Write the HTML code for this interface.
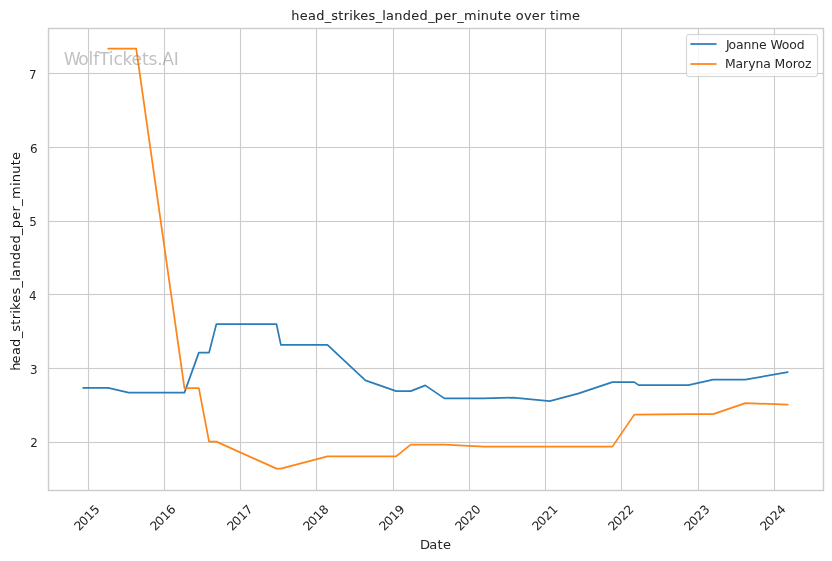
<!DOCTYPE html>
<html lang="en"><head><meta charset="utf-8"><title>head_strikes_landed_per_minute over time</title>
<style>html,body{margin:0;padding:0;background:#fff}body{width:832px;height:561px;overflow:hidden}svg{display:block}text{font-family:"DejaVu Sans","Liberation Sans",sans-serif}svg{fill:#262626}</style></head><body>
<svg width="832" height="561" viewBox="0 0 832 561">
<rect width="832" height="561" fill="#fff"/>
<g fill="#ccc" fill-opacity="0.055" shape-rendering="crispEdges">
<rect x="87" y="29" width="3" height="461"/>
<rect x="163" y="29" width="3" height="461"/>
<rect x="239" y="29" width="3" height="461"/>
<rect x="315" y="29" width="3" height="461"/>
<rect x="392" y="29" width="3" height="461"/>
<rect x="468" y="29" width="3" height="461"/>
<rect x="544" y="29" width="3" height="461"/>
<rect x="620" y="29" width="3" height="461"/>
<rect x="697" y="29" width="3" height="461"/>
<rect x="773" y="29" width="3" height="461"/>
<rect x="49" y="72" width="774" height="3"/>
<rect x="49" y="146" width="774" height="3"/>
<rect x="49" y="220" width="774" height="3"/>
<rect x="49" y="293" width="774" height="3"/>
<rect x="49" y="367" width="774" height="3"/>
<rect x="49" y="441" width="774" height="3"/>
</g>
<g fill="#ccc" shape-rendering="crispEdges">
<rect x="88" y="29" width="1" height="461"/>
<rect x="164" y="29" width="1" height="461"/>
<rect x="240" y="29" width="1" height="461"/>
<rect x="316" y="29" width="1" height="461"/>
<rect x="393" y="29" width="1" height="461"/>
<rect x="469" y="29" width="1" height="461"/>
<rect x="545" y="29" width="1" height="461"/>
<rect x="621" y="29" width="1" height="461"/>
<rect x="698" y="29" width="1" height="461"/>
<rect x="774" y="29" width="1" height="461"/>
<rect x="49" y="73" width="774" height="1"/>
<rect x="49" y="147" width="774" height="1"/>
<rect x="49" y="221" width="774" height="1"/>
<rect x="49" y="294" width="774" height="1"/>
<rect x="49" y="368" width="774" height="1"/>
<rect x="49" y="442" width="774" height="1"/>
</g>
<g fill="none" stroke-width="1.750" stroke-opacity="0.9524" stroke-linecap="round" stroke-linejoin="round">
<polyline stroke="#1f77b4" points="83.19,387.875 108.24,387.875 128.69,392.625 184.43,392.625 198.84,352.625 209.06,352.625 216.37,324.125 276.49,324.125 280.88,344.875 327.43,344.875 365.42,380.375 396.11,391.125 410.72,391.125 425.33,385.375 444.33,398.375 483.78,398.375 513.01,397.625 549.75,401.125 578.77,393.375 612.38,382.125 634.30,382.125 638.68,385.125 688.36,385.125 713.21,379.625 745.35,379.625 787.73,372.125"/>
<polyline stroke="#ff7f0e" points="108.24,48.625 136.21,48.625 184.43,388.125 198.84,388.125 209.06,441.625 216.37,441.625 276.49,468.625 280.88,468.625 327.43,456.375 396.11,456.375 410.72,444.625 444.33,444.625 483.78,446.625 612.38,446.625 634.30,414.625 688.36,414.125 713.21,414.125 745.35,403.125 787.73,404.625"/>
</g>
<rect x="48.5" y="28.5" width="775.0" height="462.0" fill="none" stroke="#ccc" stroke-width="1.39"/>
<g font-size="11.92" text-anchor="end">
<text x="36.52" y="79.00">7</text>
<text x="37.52" y="153.00">6</text>
<text x="36.77" y="226.00">5</text>
<text x="36.52" y="300.00">4</text>
<text x="37.52" y="374.00">3</text>
<text x="37.77" y="447.00">2</text>
</g>
<g font-size="12.12" stroke="#262626" stroke-width="0.045">
<text transform="translate(87.07,518.46) rotate(-45)" x="-14.50 -7.75 0.00 7.75" y="3.50 3.50 3.50 3.50">2015</text>
<text transform="translate(163.01,518.46) rotate(-45)" x="-14.50 -7.75 0.00 7.75" y="3.50 3.50 3.50 3.50">2016</text>
<text transform="translate(240.17,518.46) rotate(-45)" x="-14.75 -8.00 -0.25 7.75" y="3.50 3.50 3.50 3.50">2017</text>
<text transform="translate(316.11,518.46) rotate(-45)" x="-14.75 -8.00 0.00 7.75" y="3.50 3.50 3.50 3.50">2018</text>
<text transform="translate(392.06,518.46) rotate(-45)" x="-14.50 -7.75 0.00 7.75" y="3.50 3.50 3.50 3.50">2019</text>
<text transform="translate(468.00,518.46) rotate(-45)" x="-14.50 -7.75 0.00 7.75" y="3.50 3.50 3.50 3.50">2020</text>
<text transform="translate(545.16,518.46) rotate(-45)" x="-14.75 -8.00 -0.25 7.75" y="3.50 3.50 3.50 3.50">2021</text>
<text transform="translate(621.10,518.46) rotate(-45)" x="-14.75 -8.00 0.00 7.75" y="3.50 3.50 3.50 3.50">2022</text>
<text transform="translate(697.05,518.46) rotate(-45)" x="-14.50 -7.75 0.00 7.75" y="3.50 3.50 3.50 3.50">2023</text>
<text transform="translate(772.99,518.46) rotate(-45)" x="-14.50 -7.75 0.00 7.75" y="3.50 3.50 3.50 3.50">2024</text>
</g>
<text font-size="12.90" x="291.25 299.75 308.00 316.25 324.75 331.25 338.37 343.75 349.37 352.88 360.25 368.50 375.63 382.37 385.88 394.37 402.87 411.37 419.38 428.13 434.87 443.37 451.38 457.25 464.00 476.88 480.87 489.37 497.87 503.25 511.50 515.75 524.00 531.87 539.88 545.75 550.00 555.37 559.13 572.00" y="20.00" stroke="#262626" stroke-width="0.07">head_strikes_landed_per_minute over time</text>
<text font-size="13.10" x="419.90 429.15 437.40 443.03" y="549.00">Date</text>
<text font-size="13.00" transform="translate(19.50,371.75) rotate(-90)" x="1.00 8.25 16.75 24.75 33.75 40.00 47.12 52.50 58.12 61.88 69.00 77.25 84.38 91.12 94.88 103.12 111.62 120.12 128.38 136.88 143.62 152.12 160.38 166.00 172.75 185.88 189.62 198.12 206.62 211.75" y="0" fill="#131313" style="fill:#131313">head_strikes_landed_per_minute</text>
<rect x="686.50" y="34.50" width="131.00" height="42.00" rx="2.44" ry="2.44" fill="#fff" fill-opacity="0.8" stroke="#ccc" stroke-opacity="0.050" stroke-width="3"/>
<rect x="686.50" y="34.50" width="131.00" height="42.00" rx="2.44" ry="2.44" fill="none" stroke="#ccc" stroke-opacity="0.8" stroke-width="1.00"/>
<g fill="none" stroke-width="1.667" stroke-linecap="square"><line x1="691.25" y1="44.00" x2="715.75" y2="44.00" stroke="#1f77b4"/><line x1="691.25" y1="64.00" x2="715.75" y2="64.00" stroke="#ff7f0e"/></g>
<text font-size="12.42" x="725.96 728.58 736.08 743.58 751.34 759.08 766.58 770.46 781.84 789.34 796.84" y="49.00">Joanne Wood</text>
<text font-size="12.42" x="724.96 735.58 743.08 748.21 755.46 763.21 770.71 774.58 785.21 792.71 797.58 805.08" y="68.00">Maryna Moroz</text>
<text font-size="17.07" x="63.71 78.21 88.58 93.21 99.08 108.84 113.46 122.58 131.46 141.96 148.46 157.21 162.21 173.84" y="65.00" fill="#808080" fill-opacity="0.49" style="fill:#808080">WolfTickets.AI</text>
</svg></body></html>
